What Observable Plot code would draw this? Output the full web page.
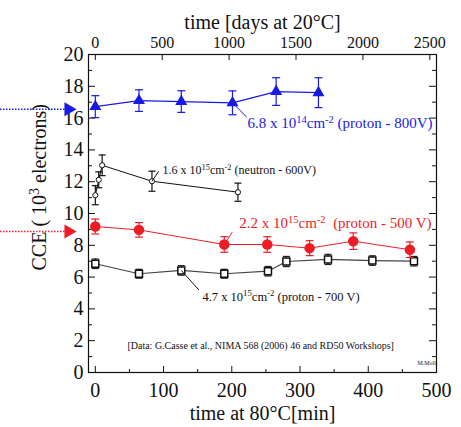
<!DOCTYPE html>
<html>
<head>
<meta charset="utf-8">
<script src="https://cdn.jsdelivr.net/npm/d3@7"></script>
<script src="https://cdn.jsdelivr.net/npm/@observablehq/plot@0.6"></script>
<style>
  html, body { margin: 0; padding: 0; background: #fff; }
  svg text { white-space: pre; font-family: "Liberation Serif", "DejaVu Serif", serif !important; }
</style>
</head>
<body>
<div id="chart"></div>
<script>
// ---- data (minutes at 80°C, CCE in 10^3 electrons) ----
const blueMin = [0, 64, 126, 201, 265, 327];
const blueCCE = [16.72, 17.1, 17.04, 16.96, 17.67, 17.6];
const blueErr = [0.69, 0.68, 0.68, 0.75, 0.87, 0.94];

const neutronMin = [0, 5, 10, 83, 209];
const neutronCCE = [11.15, 12.12, 13.03, 12.03, 11.34];
const neutronErr = [0.6, 0.5, 0.65, 0.63, 0.57];

const redMin = [0, 64, 189, 252, 314, 378, 461];
const redCCE = [9.18, 8.97, 8.05, 8.05, 7.82, 8.26, 7.72];
const redErr = [0.47, 0.46, 0.49, 0.49, 0.47, 0.52, 0.49];

const squareMin = [0, 64, 126, 189, 253, 280, 341, 406, 467];
const squareCCE = [6.84, 6.21, 6.42, 6.21, 6.37, 6.98, 7.11, 7.04, 7.0];
const squareErr = [0.3, 0.28, 0.3, 0.28, 0.3, 0.32, 0.32, 0.3, 0.3];

// axis tick labels
const yTicks = [0, 2, 4, 6, 8, 10, 12, 14, 16, 18, 20];
const yMinor = [1, 3, 5, 7, 9, 11, 13, 15, 17, 19];
const xTicks = [0, 100, 200, 300, 400, 500];
const xMinor = [50, 150, 250, 350, 450];
const dayTicks = [0, 500, 1000, 1500, 2000, 2500];
const daysPerMinute = 5.1; // 20°C days equivalent of one minute at 80°C

// series labels (annotation anchors in data units)
const labels = [
  {text: "6.8 x 10^{14}cm^{-2} (proton - 800V)", x: 223, y: 15.66, size: 15, color: "#1a1ae6", from: [201, 16.96], to: [222, 16.06]},
  {text: "1.6 x 10^{15}cm^{-2} (neutron - 600V)", x: 98.5, y: 12.74, size: 12, color: "#111", from: [83, 12.03], to: [93, 12.66]},
  {text: "2.2 x 10^{15}cm^{-2}  (proton - 500 V)", x: 211, y: 9.37, size: 15, color: "#ee1c25", from: [189, 8.05], to: [200.6, 8.82]},
  {text: "4.7 x 10^{15}cm^{-2} (proton - 700 V)", x: 157, y: 4.72, size: 12.5, color: "#111", from: [126, 6.42], to: [151.6, 5.2]}
];
const note = "[Data: G.Casse et al., NIMA 568 (2006) 46 and RD50 Workshops]";
const author = "M.Moll";
const refLevels = [{level: 16.55, color: "#1a1ae6"}, {level: 8.87, color: "#ee1c25"}];

const BLUE = "#1a1ae6", RED = "#ee1c25";

function rows(m, c, e) { return m.map((x, i) => ({x, y: c[i], e: e[i]})); }
const blue = rows(blueMin, blueCCE, blueErr);
const neutron = rows(neutronMin, neutronCCE, neutronErr);
const red = rows(redMin, redCCE, redErr);
const squares = rows(squareMin, squareCCE, squareErr);

const cap = {draw(ctx, size) { const r = Math.sqrt(size / Math.PI); ctx.moveTo(-r, 0); ctx.lineTo(r, 0); }};

function errorBars(data, stroke, w) {
  return [
    Plot.ruleX(data, {x: "x", y1: d => d.y - d.e, y2: d => d.y + d.e, stroke, strokeWidth: 1.2}),
    Plot.dot(data, {x: "x", y: d => d.y + d.e, symbol: cap, r: w, stroke, strokeWidth: 1.2}),
    Plot.dot(data, {x: "x", y: d => d.y - d.e, symbol: cap, r: w, stroke, strokeWidth: 1.2})
  ];
}

const W = 461, H = 427, mL = 88, mR = 25, mT = 54, mB = 55;
const fw = W - mL - mR, fh = H - mT - mB;

const chart = Plot.plot({
  width: W, height: H,
  marginLeft: mL, marginRight: mR, marginTop: mT, marginBottom: mB,
  style: {fontFamily: "Liberation Serif", background: "#fff", color: "#111"},
  x: {domain: [-10, 500]},
  y: {domain: [0, 20]},
  marks: [
    // inward ticks
    Plot.tickY(yTicks, {y: d => d, insetRight: fw - 7, stroke: "#111"}),
    Plot.tickY(yMinor, {y: d => d, insetRight: fw - 4, stroke: "#111"}),
    Plot.tickY(yTicks, {y: d => d, insetLeft: fw - 7, stroke: "#111"}),
    Plot.tickY(yMinor, {y: d => d, insetLeft: fw - 4, stroke: "#111"}),
    Plot.tickX(xTicks, {x: d => d, insetTop: fh - 6, stroke: "#111"}),
    Plot.tickX(xMinor, {x: d => d, insetTop: fh - 3, stroke: "#111"}),
    Plot.tickX(dayTicks, {x: d => d / daysPerMinute, insetBottom: fh - 6, stroke: "#111"}),
    Plot.frame({stroke: "#111", strokeWidth: 1.2}),
    // axes
    Plot.axisY(yTicks, {tickSize: 0, tickPadding: 5, fontSize: 20, label: null}),
    Plot.axisX(xTicks, {anchor: "bottom", tickSize: 0, tickPadding: 10, fontSize: 20, label: null}),
    Plot.axisX(dayTicks.map(d => d / daysPerMinute), {anchor: "top", tickSize: 0, tickPadding: 7, fontSize: 16,
      tickFormat: m => String(Math.round(m * daysPerMinute / 100) * 100), label: null}),
    Plot.text(["time at 80°C[min]"], {frameAnchor: "bottom", dy: 47, lineAnchor: "bottom", fontSize: 20, fill: "#111"}),
    Plot.text(["time [days at 20°C]"], {frameAnchor: "top", dy: -26, lineAnchor: "bottom", fontSize: 20, fill: "#111"}),
    Plot.text(["CCE ( 10^{3} electrons)"], {frameAnchor: "left", dx: -43, dy: 57, rotate: -90, textAnchor: "start", lineAnchor: "bottom", fontSize: 20, fill: "#111"}),
    // squares: 4.7e15 proton 700V
    Plot.line(squares, {x: "x", y: "y", stroke: "#444", strokeWidth: 1.2}),
    ...errorBars(squares, "#222", 3.5),
    Plot.dot(squares, {x: "x", y: "y", symbol: "square", r: 3.95, fill: "#fff", stroke: "#111", strokeWidth: 1.5}),
    // neutron 1.6e15
    Plot.line(neutron, {x: "x", y: "y", stroke: "#111", strokeWidth: 1}),
    ...errorBars(neutron, "#111", 3.5),
    Plot.dot(neutron, {x: "x", y: "y", r: 2.6, fill: "#fff", stroke: "#111", strokeWidth: 1}),
    // red 2.2e15 proton 500V
    Plot.line(red, {x: "x", y: "y", stroke: RED, strokeWidth: 1}),
    ...errorBars(red, RED, 4),
    Plot.dot(red, {x: "x", y: "y", r: 4.5, fill: RED, stroke: RED}),
    // blue 6.8e14 proton 800V
    Plot.line(blue, {x: "x", y: "y", stroke: BLUE, strokeWidth: 1.2}),
    ...errorBars(blue, BLUE, 4),
    Plot.dot(blue, {x: "x", y: "y", symbol: "triangle", r: 3.5, fill: BLUE, stroke: BLUE}),
    // labels and leader lines
    Plot.link(labels, {x1: d => d.from[0], y1: d => d.from[1], x2: d => d.to[0], y2: d => d.to[1], stroke: "color", strokeWidth: 1}),
    Plot.text(labels, {x: "x", y: "y", text: "text", fill: "color", fontSize: "size", textAnchor: "start"}),
    Plot.text([note], {x: 47, y: 1.7, textAnchor: "start", fontSize: 10, fill: "#111"}),
    Plot.text([author], {x: 472, y: 0.6, textAnchor: "start", fontSize: 6, fill: "#111"}),
    // reference arrows at left
    Plot.ruleY(refLevels, {y: "level", stroke: "color", strokeWidth: 1.5, strokeDasharray: "1.5,1.5", insetLeft: -mL, insetRight: fw + mL - 65}),
    Plot.dot(refLevels, {y: "level", frameAnchor: "left", dx: -20, symbol: "triangle", rotate: 90, r: 5.2, fill: "color", stroke: "none"})
  ]
});

// superscript markup ^{...} -> tspans
function applySup(svg) {
  const NS = "http://www.w3.org/2000/svg";
  svg.querySelectorAll("text").forEach(t => {
    const leaves = t.querySelectorAll("tspan").length ? [...t.querySelectorAll("tspan")] : [t];
    leaves.forEach(n => {
      const s = n.textContent;
      if (!s.includes("^{")) return;
      n.textContent = "";
      s.split(/(\^\{[^}]*\})/).forEach(p => {
        if (!p) return;
        const ts = document.createElementNS(NS, "tspan");
        if (p.startsWith("^{")) {
          ts.textContent = p.slice(2, -1);
          ts.setAttribute("baseline-shift", "super");
          ts.setAttribute("font-size", "70%");
        } else ts.textContent = p;
        n.appendChild(ts);
      });
    });
  });
}
applySup(chart);
document.getElementById("chart").appendChild(chart);
</script>
</body>
</html>
